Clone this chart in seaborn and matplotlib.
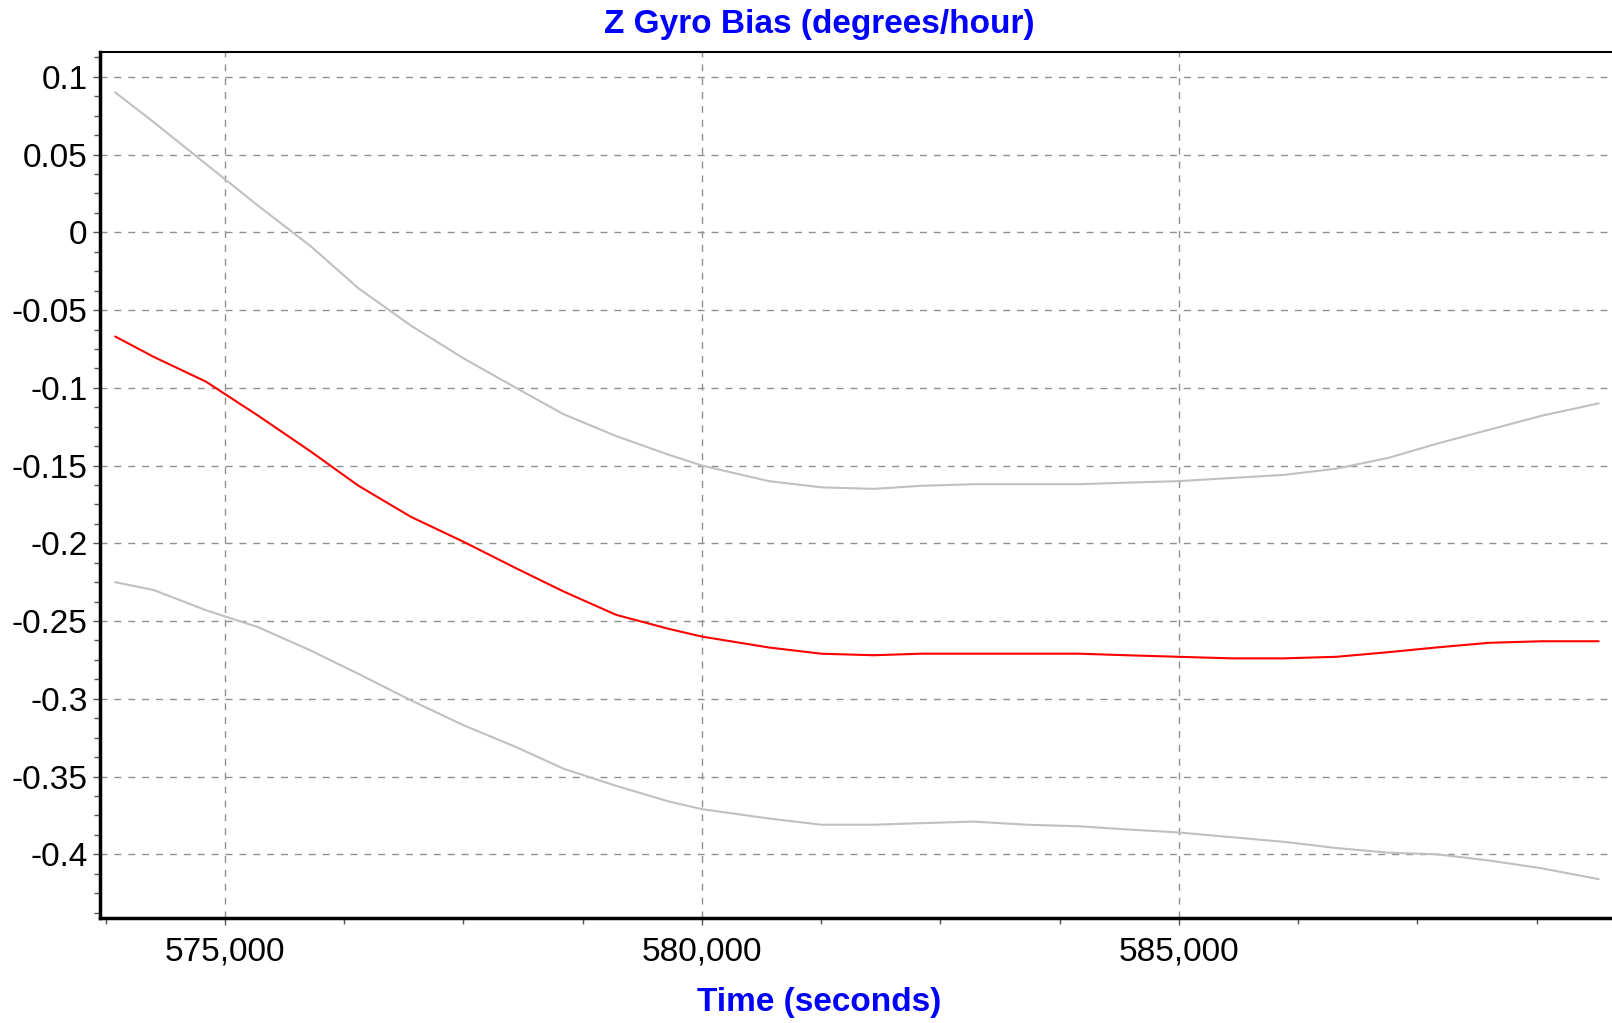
import matplotlib
matplotlib.use("Agg")
import matplotlib.pyplot as plt
import seaborn as sns
import numpy as np
from matplotlib.ticker import MultipleLocator, AutoMinorLocator, FuncFormatter

# values
time_s = [573850, 574250, 574800, 575350, 575900, 576400, 576950, 577500, 578050, 578550,
          579100, 579650, 580000, 580700, 581250, 581800, 582300, 582850, 583400, 583950,
          584450, 585000, 585550, 586100, 586650, 587200, 587700, 588250, 588800, 589400]
upper_bound = [0.090, 0.071, 0.044, 0.017, -0.009, -0.036, -0.060, -0.081, -0.100, -0.117,
               -0.131, -0.143, -0.150, -0.160, -0.164, -0.165, -0.163, -0.162, -0.162, -0.162,
               -0.161, -0.160, -0.158, -0.156, -0.152, -0.145, -0.136, -0.127, -0.118, -0.110]
bias = [-0.067, -0.080, -0.096, -0.118, -0.141, -0.163, -0.183, -0.199, -0.216, -0.231,
        -0.246, -0.255, -0.260, -0.267, -0.271, -0.272, -0.271, -0.271, -0.271, -0.271,
        -0.272, -0.273, -0.274, -0.274, -0.273, -0.270, -0.267, -0.264, -0.263, -0.263]
lower_bound = [-0.225, -0.230, -0.243, -0.254, -0.269, -0.284, -0.301, -0.317, -0.331, -0.345,
               -0.356, -0.366, -0.371, -0.377, -0.381, -0.381, -0.380, -0.379, -0.381, -0.382,
               -0.384, -0.386, -0.389, -0.392, -0.396, -0.399, -0.400, -0.404, -0.409, -0.416]

sns.set_style("white")
plt.rcParams['font.family'] = ['Liberation Sans', 'DejaVu Sans']

fig = plt.figure(figsize=(16.12, 10.23), dpi=100)
ax = fig.add_axes([100 / 1612, 1 - 918 / 1023, 1512 / 1612, (918 - 52) / 1023])

sns.lineplot(x=time_s, y=upper_bound, color='#c0c0c0', linewidth=1.5, ax=ax)
sns.lineplot(x=time_s, y=lower_bound, color='#c0c0c0', linewidth=1.5, ax=ax)
sns.lineplot(x=time_s, y=bias, color='#ff0000', linewidth=1.5, ax=ax)

ax.set_xlim(573690, 589540)
ax.set_ylim(-0.441, 0.116)

ax.xaxis.set_major_locator(MultipleLocator(5000))
ax.xaxis.set_minor_locator(AutoMinorLocator(4))
ax.yaxis.set_major_locator(MultipleLocator(0.05))
ax.yaxis.set_minor_locator(AutoMinorLocator(4))

def fmt_y(v, pos):
    v = round(v, 3) + 0.0
    return f"{v:g}"

ax.xaxis.set_major_formatter(FuncFormatter(lambda v, p: f"{v:,.0f}"))
ax.yaxis.set_major_formatter(FuncFormatter(fmt_y))

ax.grid(True, which='major', color='#909090', linestyle=(0, (5, 5)), linewidth=1)
ax.tick_params(axis='both', which='major', labelsize=24, labelcolor='black', direction='out',
               length=5, width=1, color='#555555', pad=4)
ax.tick_params(axis='x', which='major', pad=8)
ax.tick_params(axis='both', which='minor', direction='out', length=4, width=1, color='#555555')
ax.tick_params(left=True, bottom=True, which='both')

for s in ['left', 'bottom']:
    ax.spines[s].set_linewidth(2.5)
    ax.spines[s].set_color('black')
ax.spines['top'].set_linewidth(1.5)
ax.spines['top'].set_color('black')
ax.spines['right'].set_visible(False)

fig.text(0.508, 1 - 24 / 1023, "Z Gyro Bias (degrees/hour)", color='#0000ff',
         fontsize=24, fontweight='bold', ha='center', va='center')
fig.text(0.508, 1 - 1002 / 1023, "Time (seconds)", color='#0000ff',
         fontsize=24, fontweight='bold', ha='center', va='center')

fig.savefig("out.png", dpi=100, facecolor='white')
